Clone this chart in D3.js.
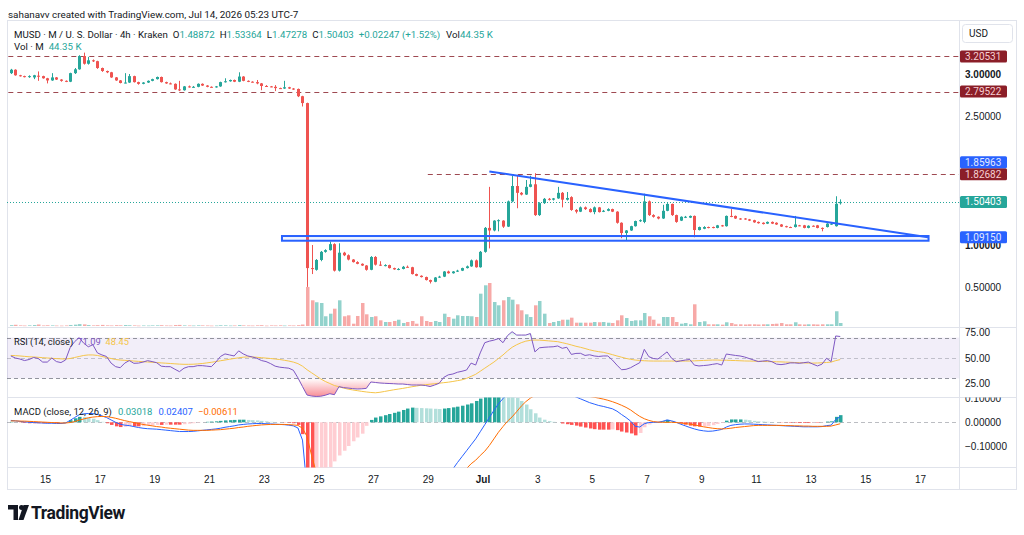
<!DOCTYPE html>
<html>
<head>
<meta charset="utf-8">
<script src="https://cdn.jsdelivr.net/npm/d3@7"></script>
<style>
  html, body { margin: 0; padding: 0; background: #fff; }
  svg { display: block; font-family: Roboto, "Noto Sans", sans-serif; }
  .axis path, .axis line { display: none; }
</style>
</head>
<body>
<svg id="chart" width="1024" height="535"></svg>
<script>
// 4h bars, MUSD / USD on Kraken, first bar opens at this time (UTC-7 shown as UTC)
const firstBar = '2026-06-13T18:00';

// [open, high, low, close]
const candles = [
  [3.01,3.06,3.00,3.05],[3.05,3.055,2.98,2.985],[2.985,2.99,2.97,2.975],[2.975,2.98,2.96,2.965],[2.965,2.985,2.955,2.975],
  [2.96,2.99,2.94,2.985],[2.98,3.03,2.92,2.975],[2.975,2.98,2.945,2.95],[2.95,2.955,2.89,2.925],[2.925,3.01,2.92,2.96],
  [2.96,2.965,2.93,2.935],[2.935,2.94,2.91,2.92],[2.92,2.925,2.905,2.915],[2.91,3.015,2.905,3.01],[3.01,3.07,3.0,3.055],
  [3.055,3.22,3.05,3.21],[3.21,3.25,3.11,3.12],[3.12,3.2,3.11,3.16],[3.16,3.17,3.14,3.15],[3.15,3.155,3.06,3.07],
  [3.07,3.075,3.025,3.035],[3.035,3.04,3.01,3.02],[3.02,3.025,2.955,2.96],[2.96,2.965,2.92,2.925],[2.925,2.93,2.89,2.895],
  [2.895,3.01,2.89,2.9],[2.9,3.0,2.895,2.975],[2.975,2.98,2.9,2.905],[2.905,2.91,2.875,2.885],[2.885,2.905,2.88,2.9],
  [2.9,2.925,2.895,2.92],[2.92,2.945,2.915,2.94],[2.94,2.97,2.935,2.965],[2.965,2.97,2.9,2.905],[2.905,2.91,2.885,2.89],
  [2.89,2.9,2.88,2.885],[2.885,2.89,2.815,2.82],[2.82,2.92,2.8,2.81],[2.81,2.86,2.805,2.855],[2.855,2.865,2.84,2.845],
  [2.845,2.86,2.84,2.85],[2.85,2.89,2.845,2.885],[2.885,2.89,2.86,2.865],[2.865,2.87,2.845,2.85],[2.85,2.855,2.84,2.845],
  [2.845,2.86,2.84,2.855],[2.855,2.91,2.85,2.905],[2.905,2.95,2.9,2.915],[2.915,2.935,2.91,2.93],[2.93,2.935,2.905,2.91],
  [2.91,3.02,2.905,2.97],[2.97,2.975,2.915,2.92],[2.92,2.925,2.905,2.91],[2.91,2.915,2.9,2.905],[2.905,2.93,2.88,2.89],
  [2.89,2.895,2.81,2.86],[2.86,2.87,2.85,2.855],[2.855,2.86,2.845,2.85],[2.85,2.87,2.8,2.835],[2.835,2.84,2.825,2.83],
  [2.83,2.92,2.825,2.845],[2.845,2.85,2.825,2.83],[2.83,2.835,2.815,2.825],[2.825,2.83,2.73,2.74],[2.74,2.745,2.62,2.66],
  [2.66,2.665,0.51,0.73],[0.73,1.0,0.66,0.72],[0.71,0.835,0.70,0.825],[0.825,0.93,0.81,0.92],[0.92,0.95,0.91,0.94],
  [0.94,1.04,0.935,1.01],[1.01,1.02,0.69,0.70],[0.70,1.02,0.69,0.91],[0.91,0.92,0.87,0.88],[0.88,0.89,0.82,0.83],
  [0.83,0.835,0.795,0.80],[0.80,0.81,0.775,0.78],[0.78,0.785,0.755,0.76],[0.76,0.765,0.70,0.71],[0.71,0.87,0.705,0.86],
  [0.86,0.87,0.76,0.77],[0.77,0.81,0.755,0.76],[0.76,0.775,0.75,0.765],[0.765,0.77,0.725,0.73],[0.73,0.735,0.71,0.715],
  [0.715,0.73,0.705,0.72],[0.72,0.755,0.715,0.745],[0.745,0.76,0.735,0.74],[0.74,0.745,0.655,0.66],[0.66,0.665,0.635,0.64],
  [0.64,0.645,0.62,0.625],[0.625,0.63,0.585,0.59],[0.59,0.595,0.55,0.57],[0.57,0.625,0.565,0.62],[0.62,0.64,0.615,0.63],
  [0.63,0.695,0.625,0.69],[0.69,0.70,0.665,0.67],[0.67,0.695,0.665,0.69],[0.69,0.71,0.685,0.70],[0.70,0.735,0.695,0.73],
  [0.73,0.76,0.725,0.75],[0.75,0.83,0.745,0.82],[0.82,0.83,0.735,0.74],[0.74,0.93,0.735,0.92],[0.92,1.21,0.91,1.20],
  [1.20,1.68,0.96,1.17],[1.17,1.29,1.16,1.285],[1.28,1.30,1.16,1.29],[1.285,1.29,1.20,1.215],[1.215,1.52,1.21,1.51],
  [1.51,1.81,1.50,1.69],[1.69,1.81,1.43,1.61],[1.61,1.62,1.58,1.59],[1.59,1.76,1.585,1.68],[1.68,1.81,1.675,1.71],
  [1.71,1.84,1.34,1.35],[1.35,1.50,1.34,1.49],[1.49,1.55,1.48,1.54],[1.54,1.55,1.52,1.53],[1.53,1.55,1.52,1.545],
  [1.545,1.68,1.54,1.61],[1.61,1.62,1.44,1.53],[1.53,1.62,1.52,1.55],[1.56,1.57,1.40,1.41],[1.41,1.42,1.37,1.39],
  [1.39,1.45,1.385,1.44],[1.44,1.45,1.41,1.42],[1.42,1.43,1.38,1.385],[1.385,1.45,1.36,1.44],[1.44,1.445,1.38,1.385],
  [1.39,1.41,1.385,1.40],[1.40,1.43,1.395,1.42],[1.42,1.425,1.385,1.39],[1.39,1.395,1.25,1.26],[1.26,1.265,1.08,1.14],
  [1.14,1.175,1.05,1.17],[1.17,1.225,1.165,1.22],[1.22,1.285,1.215,1.28],[1.28,1.30,1.27,1.29],[1.27,1.60,1.255,1.51],
  [1.51,1.52,1.34,1.35],[1.35,1.36,1.32,1.33],[1.33,1.335,1.30,1.31],[1.31,1.47,1.305,1.40],[1.40,1.49,1.395,1.48],
  [1.48,1.485,1.34,1.35],[1.35,1.355,1.26,1.27],[1.285,1.335,1.28,1.33],[1.32,1.34,1.315,1.33],[1.32,1.345,1.315,1.34],
  [1.34,1.345,1.09,1.175],[1.175,1.215,1.17,1.21],[1.19,1.22,1.185,1.21],[1.21,1.215,1.195,1.205],[1.21,1.215,1.195,1.20],
  [1.20,1.235,1.195,1.23],[1.23,1.235,1.215,1.22],[1.22,1.345,1.215,1.34],[1.34,1.42,1.325,1.33],[1.34,1.345,1.305,1.31],
  [1.31,1.315,1.295,1.30],[1.31,1.315,1.295,1.30],[1.30,1.305,1.28,1.285],[1.29,1.295,1.26,1.265],[1.27,1.275,1.25,1.255],
  [1.26,1.265,1.24,1.245],[1.25,1.275,1.245,1.27],[1.27,1.275,1.245,1.25],[1.26,1.265,1.235,1.24],[1.24,1.245,1.21,1.215],
  [1.22,1.225,1.205,1.21],[1.21,1.215,1.2,1.205],[1.21,1.34,1.205,1.24],[1.23,1.235,1.22,1.225],[1.23,1.235,1.195,1.20],
  [1.20,1.23,1.195,1.225],[1.225,1.23,1.215,1.22],[1.23,1.235,1.195,1.20],[1.20,1.205,1.16,1.19],[1.21,1.255,1.205,1.25],
  [1.24,1.255,1.235,1.25],[1.22,1.57,1.215,1.48156],[1.48872,1.53364,1.47278,1.50403]
];

// volume, thousands
const volumes = [
  12,18,9,7,10,14,22,8,11,9, 7,6,8,15,20,28,24,14,9,12, 16,10,8,12,10,14,11,9,6,8,
  7,9,10,12,8,7,14,16,9,8, 7,10,9,8,6,7,11,10,7,8, 14,9,8,7,10,12,6,9,8,10,
  7,9,8,12,22, 577,380,351,340,144,
  182,256,380,144,158,34,148,340,173,133, 144,84,59,59,74,93,44,59,74,34,
  144,74,59,74,59,182,133,108,158,148, 148,144,133,478,602,636,355,306,380,429,
  389,321,232,173,133,306,370,182,44,59, 74,93,93,123,49,49,49,49,59,55,
  59,49,44,84,158,118,74,84,84,192, 144,93,34,133,133,133,59,34,44,25,
  321,59,70,25,25,25,20,55,44,25, 25,22,25,25,22,25,25,30,34,44,
  25,25,55,25,22,25,25,22,25,25, 25,218,44.35
];

const rsi = [
  52,50,49,47.5,48.5,50.5,49.5,46,46,50, 46.5,45.5,48,60,66,70,64.5,61,63,55,
  53,51.5,45,41.5,40.5,45,47.5,44.8,45,46, 47.4,46.5,45.4,42,41.5,41.5,39,36.6,40,41.5,
  41.5,42.5,42.5,42,41.5,46,51.5,54,53,52, 57,54,52,51,49.7,47.5,46.5,44.5,42,41,
  40.5,40,38,30.5,22,13.7,12.7,12.3,12.5,13.5, 15,14,21.9,21,20.5,20,19.6,19.8,20.2,26.5,
  26,25.5,25.2,25,24.8,24.5,24.5,24,23.5,23.5, 23.5,23,22,23.5,25.2,31,33.5,34.3,36,37,
  38.2,45,43.1,55,65,66.5,67.5,69,65,72, 75.8,72.5,72.5,72.5,74,56,60,60.5,60.8,61,
  61.8,59.5,60.5,53.5,54.5,54.6,52.5,53.2,52,51.5, 52,52,48,43,38.5,38.9,40.5,43,45.4,58.5,
  51.3,49.5,49,52.5,56,49.7,46.4,47.2,48,48.5, 43,42.2,42.6,43,43.8,44.5,43.1,53.9,53.2,52.5,
  52,51,49.5,48,46.5,47,47.4,46.4,44,43.5, 44.1,45.2,45.2,44.8,45.4,46,44,42.2,44,49.7,
  46.5,71.6,71.09
];

const rsiMa = [
  52.5,52.3,52,51.6,51.2,51,50.7,50.3,50,49.7, 49.4,49.2,49,49.5,50.5,51.5,52.5,53,53,52.5,
  51.5,50.5,49.5,48.5,48,47.7,47.4,47,46.7,46.4, 46.1,45.8,45.5,45.2,44.9,44.6,44.3,44,43.8,43.8,
  43.9,44.2,44.6,45.2,45.8,46.5,47.3,48,48.8,49.5, 50.2,50.8,51.1,51,50.7,50.3,49.9,49.5,49,48.5,
  47.8,47,46,44.5,42,38.5,35.5,32.5,29.5,27, 25,23,21.8,20.5,19.5,18.7,18,17.3,16.7,16.2,
  15.9,16.4,17.2,18,18.8,19.5,20.2,21,21.8,22.5, 23.3,23.8,24.3,24.8,25.3,25.8,26.3,27,27.8,28.6,
  30,32,34,37,40,43,46,49.5,53,57, 60.5,63,65,66.5,67.3,67.6,67.5,67.2,66.8,66.4,
  66,65,64,62.8,61.5,60.5,59.3,58,57,56.2, 55.6,54.5,53.3,52,50.8,49.6,48.7,48,47.6,47.3,
  47.1,47,47,47,47,47,47,47,47,47, 47.2,47.4,47.6,47.8,48,48,47.8,47.8,47.6,47.5,
  47.3,47.1,47,46.9,46.8,46.6,46.5,46.4,46.3,46.2, 46,45.8,45.6,45.4,45.2,45,45,45.1,45.3,45.6,
  46,47.4,48.45
];

const macd = [
  0.008,0.006,0.004,0.002,0,-0.001,-0.002,-0.003,-0.004,-0.004,
  -0.005,-0.005,-0.003,0.008,0.02,0.032,0.036,0.037,0.037,0.033,
  0.027,0.02,0.01,0,-0.008,-0.012,-0.014,-0.018,-0.022,-0.025,
  -0.027,-0.028,-0.029,-0.031,-0.033,-0.035,-0.037,-0.039,-0.039,-0.039,
  -0.038,-0.036,-0.034,-0.032,-0.03,-0.028,-0.025,-0.021,-0.018,-0.015,
  -0.011,-0.009,-0.007,-0.006,-0.005,-0.005,-0.006,-0.007,-0.008,-0.009,
  -0.01,-0.012,-0.015,-0.024,-0.075,-0.28,-0.4,-0.46,-0.49,-0.51,
  -0.52,-0.52,-0.515,-0.51,-0.5,-0.49,-0.48,-0.468,-0.44,-0.415,
  -0.4,-0.39,-0.38,-0.37,-0.36,-0.35,-0.338,-0.327,-0.318,-0.312,
  -0.306,-0.3,-0.293,-0.285,-0.275,-0.26,-0.23,-0.197,-0.17,-0.145,
  -0.12,-0.095,-0.07,-0.04,-0.01,0.02,0.05,0.078,0.1,0.12,
  0.135,0.148,0.158,0.162,0.157,0.151,0.142,0.138,0.135,0.133,
  0.131,0.125,0.12,0.114,0.107,0.099,0.091,0.083,0.077,0.071,
  0.067,0.062,0.057,0.047,0.033,0.02,0.005,-0.017,-0.02,-0.006,
  -0.001,0,0,0.004,0.01,0.006,0,-0.008,-0.015,-0.022,
  -0.028,-0.033,-0.036,-0.038,-0.037,-0.034,-0.03,-0.02,-0.013,-0.01,
  -0.008,-0.007,-0.007,-0.008,-0.009,-0.01,-0.011,-0.012,-0.013,-0.014,
  -0.015,-0.016,-0.017,-0.018,-0.019,-0.019,-0.019,-0.019,-0.018,-0.014,
  -0.012,0.012,0.02407
];

const signal = [
  0.006,0.006,0.005,0.005,0.004,0.003,0.002,0.001,0,-0.001,
  -0.002,-0.003,-0.003,-0.001,0.003,0.009,0.014,0.019,0.022,0.024,
  0.025,0.024,0.021,0.017,0.012,0.007,0.003,-0.001,-0.005,-0.009,
  -0.012,-0.015,-0.018,-0.02,-0.023,-0.025,-0.027,-0.029,-0.031,-0.033,
  -0.034,-0.034,-0.034,-0.034,-0.033,-0.032,-0.031,-0.029,-0.027,-0.025,
  -0.022,-0.02,-0.017,-0.015,-0.013,-0.011,-0.01,-0.009,-0.009,-0.009,
  -0.009,-0.01,-0.011,-0.013,-0.025,-0.06,-0.14,-0.21,-0.26,-0.3,
  -0.33,-0.355,-0.375,-0.39,-0.4,-0.41,-0.416,-0.42,-0.425,-0.425,
  -0.42,-0.415,-0.41,-0.405,-0.4,-0.395,-0.39,-0.385,-0.38,-0.373,
  -0.366,-0.359,-0.351,-0.342,-0.331,-0.318,-0.29,-0.26,-0.236,-0.215,
  -0.195,-0.175,-0.16,-0.14,-0.122,-0.098,-0.07,-0.042,-0.018,0.005,
  0.023,0.045,0.068,0.087,0.102,0.113,0.122,0.127,0.13,0.131,
  0.131,0.13,0.128,0.125,0.121,0.117,0.113,0.109,0.106,0.102,
  0.098,0.093,0.087,0.08,0.072,0.063,0.052,0.038,0.025,0.015,
  0.008,0.003,0.001,0,0,0,-0.001,-0.003,-0.005,-0.008,
  -0.011,-0.015,-0.019,-0.022,-0.025,-0.027,-0.028,-0.027,-0.025,-0.022,
  -0.02,-0.018,-0.016,-0.014,-0.013,-0.013,-0.013,-0.013,-0.013,-0.013,
  -0.014,-0.014,-0.015,-0.015,-0.016,-0.016,-0.017,-0.017,-0.017,-0.017,
  -0.016,-0.011,-0.00611
];

const histogram = [
  0.002,0,-0.001,-0.003,-0.004,-0.004,-0.004,-0.004,-0.004,-0.003,
  -0.003,-0.002,0,0.009,0.017,0.023,0.022,0.018,0.015,0.009,
  0.002,-0.004,-0.011,-0.017,-0.02,-0.019,-0.017,-0.017,-0.017,-0.016,
  -0.015,-0.013,-0.011,-0.011,-0.01,-0.01,-0.01,-0.01,-0.008,-0.006,
  -0.004,-0.002,0,0.002,0.003,0.004,0.006,0.008,0.009,0.01,
  0.011,0.011,0.01,0.009,0.008,0.006,0.004,0.002,0.001,0,
  -0.001,-0.002,-0.004,-0.011,-0.05,-0.22,-0.26,-0.25,-0.23,-0.21,
  -0.19,-0.165,-0.14,-0.12,-0.1,-0.08,-0.064,-0.048,-0.015,0.01,
  0.02,0.025,0.03,0.035,0.04,0.045,0.052,0.058,0.062,0.061,
  0.06,0.059,0.058,0.057,0.056,0.058,0.06,0.063,0.066,0.07,
  0.075,0.08,0.09,0.1,0.112,0.118,0.12,0.12,0.118,0.115,
  0.112,0.103,0.09,0.075,0.055,0.038,0.02,0.011,0.005,0.002,
  0,-0.005,-0.008,-0.011,-0.014,-0.018,-0.022,-0.026,-0.029,-0.031,
  -0.031,-0.031,-0.03,-0.033,-0.039,-0.043,-0.047,-0.055,-0.045,-0.021,
  -0.009,-0.003,-0.001,0.004,0.01,0.006,0.001,-0.005,-0.01,-0.014,
  -0.017,-0.018,-0.017,-0.016,-0.012,-0.007,-0.002,0.007,0.012,0.012,
  0.012,0.011,0.009,0.006,0.004,0.003,0.002,0.001,0,-0.001,
  -0.001,-0.002,-0.002,-0.003,-0.003,-0.003,-0.002,-0.002,-0.001,0.003,
  0.004,0.023,0.03018
];

// axis ticks
const timeTicks = ['2026-06-15','2026-06-17','2026-06-19','2026-06-21','2026-06-23','2026-06-25','2026-06-27',
  '2026-06-29','2026-07-01','2026-07-03','2026-07-05','2026-07-07','2026-07-09','2026-07-11','2026-07-13',
  '2026-07-15','2026-07-17'];
const priceTicks = [0.5, 1, 2.5, 3];
const rsiTicks = [25, 50, 75];
const macdTicks = [-0.1, 0, 0.1];

// drawings on the price pane
const hLevels = [3.20531, 2.79522, 1.82682];
const hLevelFrom = ['2026-06-13T00:00', '2026-06-13T00:00', '2026-06-29T00:00'];
const trendLine = [['2026-07-01T06:00', 1.85963], ['2026-07-17T07:00', 1.0915]];
const zone = {from: '2026-06-23T16:00', to: '2026-07-17T07:30', top: 1.105, bottom: 1.05};

const svg = d3.select('#chart');
const frameL = 7, frameR = 1017, axisX = 959, frameT = 21, frameB = 490;
const mainBottom = 327.5, rsiBottom = 397.5, macdBottom = 467.5;
const upColor = '#26a69a', downColor = '#ef5350';
const textColor = '#131722';
const legendSize = 9.7;

const parseT = d3.utcParse('%Y-%m-%dT%H:%M');
const parseD = d3.utcParse('%Y-%m-%d');
const t0 = parseT(firstBar);
const times = candles.map((d, i) => d3.utcHour.offset(t0, 4 * i));
const bars = candles.map((c, i) => ({t: times[i], o: c[0], h: c[1], l: c[2], c: c[3], v: volumes[i], up: c[3] >= c[0]}));

const x = d3.scaleUtc().domain([parseD('2026-06-15'), parseD('2026-07-17')]).range([45, 920]);
const yP = d3.scaleLinear().domain([1, 3]).range([245, 74]);
const yV = d3.scaleLinear().domain([0, d3.max(volumes)]).range([326, 283]);
const yR = d3.scaleLinear().domain([25, 75]).range([383.5, 332.5]);
const yM = d3.scaleLinear().domain([-0.1, 0.1]).range([446, 398.6]);
const bx = d => Math.round(x(d.t));

const defs = svg.append('defs');
function addClip(id, y0, y1, x1) {
  defs.append('clipPath').attr('id', id).append('rect')
    .attr('x', frameL).attr('y', y0).attr('width', x1 - frameL).attr('height', y1 - y0);
}
addClip('clipMain', frameT, mainBottom, axisX);
addClip('clipRsi', mainBottom, rsiBottom, axisX);
addClip('clipMacd', rsiBottom, macdBottom, axisX);
addClip('clipMacdAxis', rsiBottom, macdBottom, frameR);

function vGrad(id, color, y1, y2) {
  const g = defs.append('linearGradient').attr('id', id).attr('gradientUnits', 'userSpaceOnUse')
    .attr('x1', 0).attr('x2', 0).attr('y1', y1).attr('y2', y2);
  g.append('stop').attr('offset', 0).attr('stop-color', color).attr('stop-opacity', 0);
  g.append('stop').attr('offset', 1).attr('stop-color', color).attr('stop-opacity', 0.95);
}
vGrad('gOs', '#f23645', yR(30), yR(0));
vGrad('gOb', '#089981', yR(70), yR(100));

// header
svg.append('text').attr('x', 8).attr('y', 17.5).attr('font-size', 9.9).attr('fill', textColor)
  .text('sahanavv created with TradingView.com, Jul 14, 2026 05:23 UTC-7');

// frame and pane separators
svg.append('rect').attr('x', frameL + 0.5).attr('y', frameT - 0.5).attr('width', frameR - frameL - 1).attr('height', frameB - frameT)
  .attr('fill', 'none').attr('stroke', '#e0e3eb');
[mainBottom, rsiBottom, macdBottom].forEach(y => {
  svg.append('line').attr('x1', frameL).attr('x2', frameR).attr('y1', y).attr('y2', y).attr('stroke', '#e0e3eb');
});
svg.append('line').attr('x1', axisX + 0.5).attr('x2', axisX + 0.5).attr('y1', frameT).attr('y2', frameB).attr('stroke', '#e0e3eb');

// ---------- price pane ----------
const main = svg.append('g').attr('clip-path', 'url(#clipMain)');

main.selectAll('rect.vol')
    .data(bars)
  .join('rect')
    .attr('class', 'vol')
    .attr('x', d => bx(d) - 1)
    .attr('width', 3.5)
    .attr('y', d => yV(d.v))
    .attr('height', d => Math.max(0.6, yV(0) - yV(d.v)))
    .attr('fill', d => d.up ? 'rgba(38,166,154,0.5)' : 'rgba(239,83,80,0.5)');

hLevels.forEach((p, i) => {
  main.append('line')
    .attr('x1', x(parseT(hLevelFrom[i]))).attr('x2', axisX)
    .attr('y1', Math.round(yP(p)) + 0.5).attr('y2', Math.round(yP(p)) + 0.5)
    .attr('stroke', '#8e2a33').attr('stroke-width', 1).attr('stroke-dasharray', '5,4').attr('opacity', 0.85);
});

const lastBar = bars[bars.length - 1];
main.append('line')
  .attr('x1', frameL).attr('x2', axisX)
  .attr('y1', Math.round(yP(lastBar.c)) + 0.5).attr('y2', Math.round(yP(lastBar.c)) + 0.5)
  .attr('stroke', upColor).attr('stroke-dasharray', '1,2');

const candle = main.selectAll('g.candle')
    .data(bars)
  .join('g')
    .attr('class', 'candle');
candle.append('line')
  .attr('x1', d => bx(d) + 0.5).attr('x2', d => bx(d) + 0.5)
  .attr('y1', d => yP(d.h)).attr('y2', d => yP(d.l))
  .attr('stroke', d => d.up ? upColor : downColor);
candle.append('rect')
  .attr('x', d => bx(d) - 1).attr('width', 3)
  .attr('y', d => yP(Math.max(d.o, d.c)))
  .attr('height', d => Math.max(1, Math.abs(yP(d.o) - yP(d.c))))
  .attr('fill', d => d.up ? upColor : downColor);

main.append('rect')
  .attr('x', x(parseT(zone.from))).attr('y', yP(zone.top))
  .attr('width', x(parseT(zone.to)) - x(parseT(zone.from)))
  .attr('height', yP(zone.bottom) - yP(zone.top))
  .attr('fill', 'rgba(41,98,255,0.06)').attr('stroke', '#2962ff').attr('stroke-width', 2);

main.append('line')
  .attr('x1', x(parseT(trendLine[0][0]))).attr('y1', yP(trendLine[0][1]))
  .attr('x2', x(parseT(trendLine[1][0]))).attr('y2', yP(trendLine[1][1]))
  .attr('stroke', '#2962ff').attr('stroke-width', 2);

// price axis
const pAxis = svg.append('g').attr('class', 'axis').attr('transform', `translate(${axisX},0)`)
  .call(d3.axisRight(yP).tickValues(priceTicks).tickSize(0).tickPadding(6).tickFormat(d3.format('.5f')));
pAxis.selectAll('text').attr('font-size', 10).attr('fill', textColor)
  .attr('font-weight', d => Number.isInteger(d) ? 700 : 400);

// price labels on the axis
const markPrices = [3.20531, 2.79522, 1.85963, 1.82682, 1.50403, 1.0915];
const markKinds = ['level', 'level', 'trend', 'level', 'last', 'trend'];
const markFill = {level: '#8b1e28', trend: '#2962ff', last: '#26a69a'};
const markText = {level: '#f6cfd2', trend: '#e3eaff', last: '#ffffff'};
const marks = markPrices.map((p, i) => ({p, kind: markKinds[i], y: yP(p)}))
  .sort((a, b) => b.y - a.y);
let limit = Infinity;
marks.forEach(m => {
  if (m.y + 6 > limit) m.y = limit - 6;
  limit = m.y - 6;
});
const markG = svg.selectAll('g.mark').data(marks).join('g').attr('class', 'mark');
markG.append('rect').attr('x', axisX + 1).attr('y', d => d.y - 6).attr('width', 47).attr('height', 12).attr('rx', 1.5)
  .attr('fill', d => markFill[d.kind]);
markG.append('text').attr('x', axisX + 6).attr('y', d => d.y).attr('dy', '0.35em').attr('font-size', 10)
  .attr('fill', d => markText[d.kind]).text(d => d3.format('.5f')(d.p));

svg.append('rect').attr('x', 962.5).attr('y', 24.5).attr('width', 50).attr('height', 18).attr('rx', 3)
  .attr('fill', '#fff').attr('stroke', '#e0e3eb');
svg.append('text').attr('x', 969).attr('y', 33.5).attr('dy', '0.35em').attr('font-size', 10).attr('fill', textColor).text('USD');

// legend
const prevClose = bars[bars.length - 2].c;
const chg = lastBar.c - prevClose;
const f5 = d3.format('.5f');
const legend = svg.append('text').attr('x', 14).attr('y', 37.5).attr('font-size', legendSize).attr('fill', textColor);
legend.append('tspan').text('MUSD · M / U. S. Dollar · 4h · Kraken');
[['O', lastBar.o], ['H', lastBar.h], ['L', lastBar.l], ['C', lastBar.c]].forEach(([k, v]) => {
  legend.append('tspan').attr('dx', 5).text(k);
  legend.append('tspan').attr('fill', upColor).text(f5(v));
});
legend.append('tspan').attr('dx', 5).attr('fill', upColor)
  .text(`${d3.format('+.5f')(chg)} (${d3.format('+.2%')(chg / prevClose)})`);
legend.append('tspan').attr('dx', 6).text('Vol');
legend.append('tspan').attr('fill', upColor).text(`${d3.format('.2f')(lastBar.v)} K`);
const legend2 = svg.append('text').attr('x', 14).attr('y', 50).attr('font-size', legendSize).attr('fill', textColor);
legend2.append('tspan').text('Vol · M');
legend2.append('tspan').attr('dx', 5).attr('fill', upColor).text(`${d3.format('.2f')(lastBar.v)} K`);

// ---------- RSI pane ----------
const rsiG = svg.append('g').attr('clip-path', 'url(#clipRsi)');
rsiG.append('rect').attr('x', frameL).attr('width', axisX - frameL).attr('y', yR(70)).attr('height', yR(30) - yR(70))
  .attr('fill', 'rgba(126,87,194,0.1)');
[[70, 1], [50, 0.5], [30, 1]].forEach(([lv, op]) => {
  rsiG.append('line').attr('x1', frameL).attr('x2', axisX).attr('y1', Math.round(yR(lv)) + 0.5).attr('y2', Math.round(yR(lv)) + 0.5)
    .attr('stroke', '#787b86').attr('stroke-opacity', op * 0.8).attr('stroke-dasharray', '4,3');
});
const rsiPts = rsi.map((v, i) => ({t: times[i], v, m: rsiMa[i]}));
rsiG.append('path').datum(rsiPts)
  .attr('d', d3.area().x(d => x(d.t)).y0(yR(30)).y1(d => yR(Math.min(d.v, 30))))
  .attr('fill', 'url(#gOs)');
rsiG.append('path').datum(rsiPts)
  .attr('d', d3.area().x(d => x(d.t)).y0(yR(70)).y1(d => yR(Math.max(d.v, 70))))
  .attr('fill', 'url(#gOb)');
rsiG.append('path').datum(rsiPts)
  .attr('d', d3.line().x(d => x(d.t)).y(d => yR(d.m)))
  .attr('fill', 'none').attr('stroke', '#f5c54a').attr('stroke-width', 1);
rsiG.append('path').datum(rsiPts)
  .attr('d', d3.line().x(d => x(d.t)).y(d => yR(d.v)))
  .attr('fill', 'none').attr('stroke', '#7e57c2').attr('stroke-width', 1);

const rAxis = svg.append('g').attr('class', 'axis').attr('transform', `translate(${axisX},0)`)
  .call(d3.axisRight(yR).tickValues(rsiTicks).tickSize(0).tickPadding(6).tickFormat(d3.format('.2f')));
rAxis.selectAll('text').attr('font-size', 10).attr('fill', textColor);

const rLeg = svg.append('text').attr('x', 14).attr('y', 344.5).attr('font-size', 9.3).attr('fill', textColor);
rLeg.append('tspan').text('RSI (14, close)');
rLeg.append('tspan').attr('dx', 4).attr('fill', '#7e57c2').text(d3.format('.2f')(rsi[rsi.length - 1]));
rLeg.append('tspan').attr('dx', 5).attr('fill', '#f5c54a').text(d3.format('.2f')(rsiMa[rsiMa.length - 1]));

// ---------- MACD pane ----------
const macdG = svg.append('g').attr('clip-path', 'url(#clipMacd)');
macdG.append('line').attr('x1', frameL).attr('x2', axisX).attr('y1', Math.round(yM(0)) + 0.5).attr('y2', Math.round(yM(0)) + 0.5)
  .attr('stroke', '#787b86').attr('stroke-opacity', 0.5).attr('stroke-dasharray', '4,3');
const macdPts = macd.map((v, i) => ({t: times[i], m: v, s: signal[i], h: histogram[i], prev: i ? histogram[i - 1] : histogram[i]}));
function histColor(d) {
  if (d.h >= 0) return d.h >= d.prev ? '#26a69a' : '#b2dfdb';
  return d.h <= d.prev ? '#ff5252' : '#ffcdd2';
}
macdG.selectAll('rect.hist')
    .data(macdPts)
  .join('rect')
    .attr('class', 'hist')
    .attr('x', d => Math.round(x(d.t)) - 1)
    .attr('width', 3.5)
    .attr('y', d => Math.min(yM(0), yM(d.h)))
    .attr('height', d => Math.abs(yM(d.h) - yM(0)))
    .attr('fill', histColor);
macdG.append('path').datum(macdPts)
  .attr('d', d3.line().x(d => x(d.t)).y(d => yM(d.m)))
  .attr('fill', 'none').attr('stroke', '#2962ff').attr('stroke-width', 1);
macdG.append('path').datum(macdPts)
  .attr('d', d3.line().x(d => x(d.t)).y(d => yM(d.s)))
  .attr('fill', 'none').attr('stroke', '#ff6d00').attr('stroke-width', 1);

const mAxis = svg.append('g').attr('class', 'axis').attr('clip-path', 'url(#clipMacdAxis)')
  .append('g').attr('transform', `translate(${axisX},0)`)
  .call(d3.axisRight(yM).tickValues(macdTicks).tickSize(0).tickPadding(6).tickFormat(d3.format('.5f')));
mAxis.selectAll('text').attr('font-size', 10).attr('fill', textColor);

const mLeg = svg.append('text').attr('x', 14).attr('y', 414.5).attr('font-size', 9.5).attr('fill', textColor);
mLeg.append('tspan').text('MACD (close, 12, 26, 9)');
mLeg.append('tspan').attr('dx', 6).attr('fill', '#26a69a').text(f5(histogram[histogram.length - 1]));
mLeg.append('tspan').attr('dx', 6).attr('fill', '#2962ff').text(f5(macd[macd.length - 1]));
mLeg.append('tspan').attr('dx', 5).attr('fill', '#ff6d00').text(f5(signal[signal.length - 1]));

// ---------- time axis ----------
const fDay = d3.utcFormat('%-d'), fMon = d3.utcFormat('%b');
const tAxis = svg.append('g').attr('class', 'axis').attr('transform', `translate(0,${macdBottom})`)
  .call(d3.axisBottom(x).tickValues(timeTicks.map(parseD)).tickSize(0).tickPadding(8)
    .tickFormat(d => d.getUTCDate() === 1 ? fMon(d) : fDay(d)));
tAxis.selectAll('text').attr('font-size', 10).attr('fill', textColor)
  .attr('font-weight', d => d.getUTCDate() === 1 ? 700 : 400);

// ---------- TradingView mark ----------
const logo = svg.append('g').attr('fill', textColor);
logo.append('path').attr('d', 'M8,505 H18 V520 H13.5 V509.5 H8 Z');
logo.append('circle').attr('cx', 21.5).attr('cy', 507.5).attr('r', 2.5);
logo.append('path').attr('d', 'M23.5,505 H29 L23.5,520 H18.5 Z');
svg.append('text').attr('x', 31).attr('y', 519).attr('font-size', 17.5).attr('font-weight', 700)
  .attr('letter-spacing', -0.4).attr('fill', textColor).text('TradingView');
</script>
</body>
</html>
